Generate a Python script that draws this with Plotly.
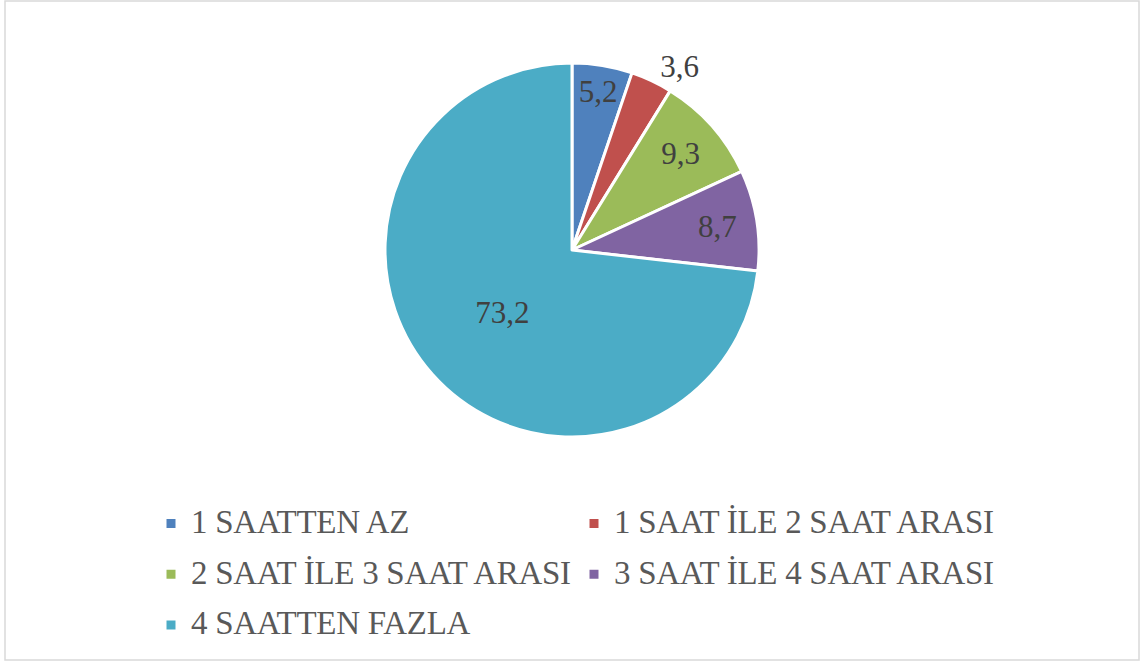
import plotly.graph_objects as go

labels = ["1 SAATTEN AZ", "1 SAAT İLE 2 SAAT ARASI", "2 SAAT İLE 3 SAAT ARASI",
          "3 SAAT İLE 4 SAAT ARASI", "4 SAATTEN FAZLA"]
values = [5.2, 3.6, 9.3, 8.7, 73.2]
text_labels = ["5,2", "3,6", "9,3", "8,7", "73,2"]
colors = ["#4F81BD", "#C0504D", "#9BBB59", "#8064A2", "#4BACC6"]
text_positions = ["inside", "outside", "inside", "inside", "inside"]

W, H = 1140, 662
cx, cy, r = 572, 250, 187
SERIF = "Liberation Serif, Tinos, DejaVu Serif, serif"

legend_labels = ['<span style="font-size:33px;letter-spacing:-0.3px;baseline-shift:5px">%s</span>' % s
                 for s in labels]

fig = go.Figure(go.Pie(
    labels=legend_labels,
    values=values,
    text=text_labels,
    textinfo="text",
    textposition=text_positions,
    insidetextorientation="horizontal",
    sort=False,
    direction="clockwise",
    rotation=0,
    marker=dict(colors=colors, line=dict(color="white", width=3)),
    textfont=dict(family=SERIF, size=31, color="#404040"),
    outsidetextfont=dict(family=SERIF, size=31, color="#404040"),
    domain=dict(x=[(cx - r) / W, (cx + r) / W], y=[1 - (cy + r) / H, 1 - (cy - r) / H]),
    hoverinfo="label+value",
))

fig.update_layout(
    width=W, height=H,
    margin=dict(l=0, r=0, t=0, b=0),
    paper_bgcolor="white",
    font=dict(family=SERIF),
    uniformtext=dict(minsize=31, mode="show"),
    showlegend=True,
    legend=dict(
        orientation="h",
        x=151 / W, xanchor="left",
        y=1 - 493 / H, yanchor="top",
        entrywidth=378, entrywidthmode="pixels",
        font=dict(family=SERIF, size=36.8, color="#595959"),
        bgcolor="rgba(0,0,0,0)",
        traceorder="normal",
    ),
    shapes=[dict(type="rect", xref="paper", yref="paper", x0=5 / W, x1=1139 / W,
                 y0=1 - 660 / H, y1=1 - 1 / H, line=dict(color="#D9D9D9", width=1.5))],
)

fig.write_html("out.html", config={"displayModeBar": False},
               post_script="document.body.style.margin='0';")
